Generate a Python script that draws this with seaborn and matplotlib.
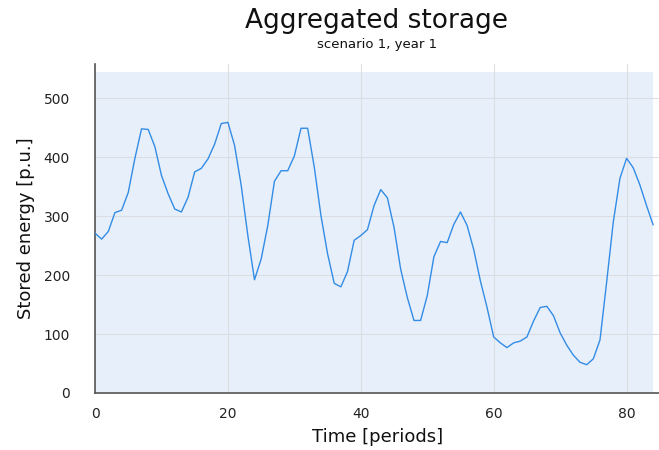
import numpy as np
import pandas as pd
import seaborn as sns
import matplotlib.pyplot as plt

# Aggregated storage level per period (scenario 1, year 1)
periods = list(range(85))
stored_energy = [
    271, 261, 274, 306, 310, 340, 398, 448, 447, 418,
    369, 338, 312, 307, 332, 375, 381, 397, 422, 457,
    459, 420, 352, 267, 192, 227, 284, 359, 377, 377,
    402, 449, 449, 383, 301, 236, 186, 180, 206, 259,
    267, 277, 318, 345, 331, 281, 210, 162, 123, 123,
    165, 231, 257, 255, 286, 307, 284, 243, 190, 145,
    95, 85, 77, 85, 88, 95, 122, 145, 147, 131,
    102, 81, 64, 52, 48, 58, 90, 188, 290, 364,
    398, 382, 353, 318, 285,
]
capacity = 544
x_ticks = [0, 20, 40, 60, 80]
y_ticks = [0, 100, 200, 300, 400, 500]

df = pd.DataFrame({"period": periods, "energy": stored_energy})

sns.set_style("white")
plt.rcParams["font.family"] = ["DejaVu Sans"]

fig = plt.figure(figsize=(6.59, 4.5), dpi=100)
ax = fig.add_axes([0.1442, 0.1267, 0.856, 0.7311])

# storage capacity band
ax.fill_between([periods[0], periods[-1]], 0, capacity,
                color="#e7effa", linewidth=0, zorder=0)

sns.lineplot(data=df, x="period", y="energy", ax=ax,
             color="#338ce5", linewidth=1.0, zorder=3)

ax.set_xlim(0, 84.9)
ax.set_ylim(0, 558)
ax.set_xticks(x_ticks)
ax.set_yticks(y_ticks)

ax.grid(True, color="#d9dde2", linewidth=0.8, alpha=0.9, zorder=1)
ax.set_axisbelow(True)

for side in ("top", "right"):
    ax.spines[side].set_visible(False)
for side in ("left", "bottom"):
    ax.spines[side].set_color("#555555")
    ax.spines[side].set_linewidth(1.2)

ax.tick_params(axis="y", direction="out", length=12, width=0.8,
               color="#d9dde2", labelsize=10, labelcolor="#222222", pad=6)
ax.tick_params(axis="x", direction="out", length=7, width=0.8,
               color="#d9dde2", labelsize=10, labelcolor="#222222", pad=3)
ax.yaxis.get_major_ticks()[0].tick1line.set_color("#555555")
ax.xaxis.get_major_ticks()[0].tick1line.set_color("#555555")

ax.set_xlabel("Time [periods]", fontsize=13, color="#111111", labelpad=5)
ax.set_ylabel("Stored energy [p.u.]", fontsize=13, color="#111111", labelpad=6)

fig.text(0.572, 0.953, "Aggregated storage", ha="center", va="center",
         fontsize=19, color="#111111")
fig.text(0.572, 0.902, "scenario 1, year 1", ha="center", va="center",
         fontsize=9.5, color="#111111")

fig.savefig("out.png", dpi=100)
